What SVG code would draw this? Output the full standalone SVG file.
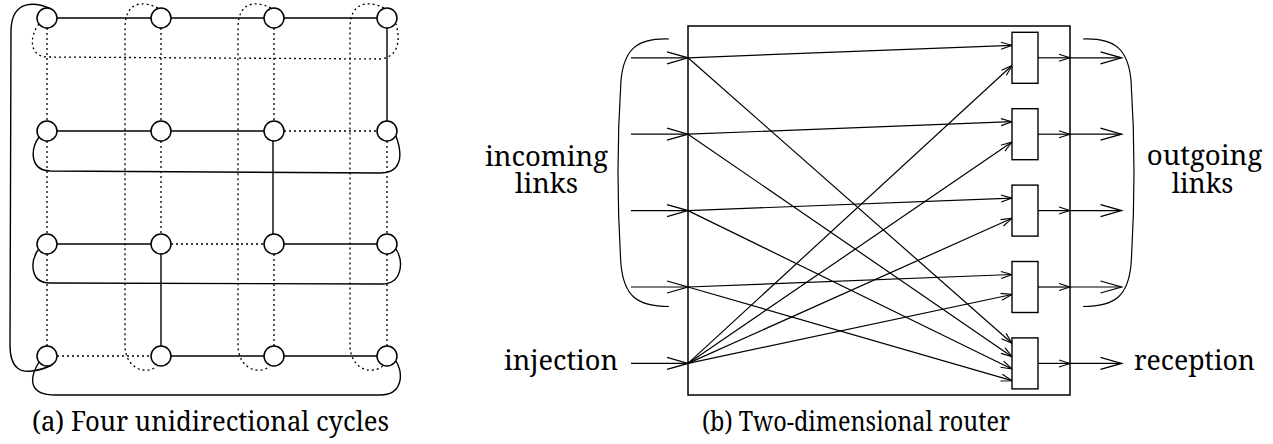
<svg xmlns="http://www.w3.org/2000/svg" width="1273" height="444" viewBox="0 0 1273 444">
<style>
.s{fill:none;stroke:#000;stroke-width:1.4}
.d{fill:none;stroke:#000;stroke-width:1.3;stroke-dasharray:2 3}
.n{fill:#fff;stroke:#000;stroke-width:1.5}
.l{fill:none;stroke:#000;stroke-width:1.2}
.bx{fill:#fff;stroke:#000;stroke-width:1.4}
text{font-family:"Noto Serif","DejaVu Serif",serif;fill:#000}
.t{font-size:28px}
.c{font-size:27px}
.sm{marker-end:url(#sa)}
.bg{marker-end:url(#ba)}
</style>
<defs>
<marker id="sa" markerUnits="userSpaceOnUse" markerWidth="16" markerHeight="12" viewBox="-14 -6 16 12" refX="0" refY="0" orient="auto" overflow="visible"><path d="M-11,-3.5 L0,0 L-11,3.5" fill="none" stroke="#000" stroke-width="1.1"/></marker>
<marker id="ba" markerUnits="userSpaceOnUse" markerWidth="26" markerHeight="16" viewBox="-24 -8 26 16" refX="0" refY="0" orient="auto" overflow="visible"><path d="M-21,-6 L0,0 L-21,6" fill="none" stroke="#000" stroke-width="1.3"/></marker>
</defs>

<g id="connectors-a">
<line class="s" x1="57" y1="18" x2="151" y2="18"/><line class="s" x1="171" y1="18" x2="264" y2="18"/><line class="s" x1="284" y1="18" x2="377" y2="18"/>
<line class="s" x1="57" y1="131" x2="151" y2="131"/><line class="s" x1="171" y1="131" x2="264" y2="131"/><line class="d" x1="284" y1="131" x2="377" y2="131"/>
<line class="s" x1="57" y1="244" x2="151" y2="244"/><line class="d" x1="171" y1="244" x2="264" y2="244"/><line class="s" x1="284" y1="244" x2="377" y2="244"/>
<line class="d" x1="57" y1="356" x2="151" y2="356"/><line class="s" x1="171" y1="356" x2="264" y2="356"/><line class="s" x1="284" y1="356" x2="377" y2="356"/>
<line class="d" x1="47" y1="28" x2="47" y2="121"/><line class="d" x1="47" y1="141" x2="47" y2="234"/><line class="d" x1="47" y1="254" x2="47" y2="346"/>
<line class="d" x1="161" y1="28" x2="161" y2="121"/><line class="d" x1="161" y1="141" x2="161" y2="234"/><line class="s" x1="161" y1="254" x2="161" y2="346"/>
<line class="d" x1="274" y1="28" x2="274" y2="121"/><line class="s" x1="273" y1="141" x2="273" y2="234"/><line class="d" x1="274" y1="254" x2="274" y2="346"/>
<line class="s" x1="387" y1="28" x2="387" y2="121"/><line class="d" x1="387" y1="141" x2="387" y2="234"/><line class="d" x1="387" y1="254" x2="387" y2="346"/>
<path class="s" d="M50,8.5 C36,2 12,-1 11,30 L10,345 C10,372 24,372 32,371 C40,370 46,368 52,365"/>
<path class="d" d="M158,8 C142,0 125,2 125,28 L125,345 C125,368 145,376 157,366"/>
<path class="d" d="M271,8 C255,0 238,2 238,28 L238,345 C238,368 258,376 270,366"/>
<path class="d" d="M384,8 C368,0 350,2 350,28 L350,345 C350,368 370,376 383,366"/>
<path class="d" d="M39,24 C30,35 28,56 47,57 L380,59 C395,58 402,45 396,24"/>
<path class="s" d="M39,137 C30,150 30,170 50,171 L380,173 C400,173 404,158 396,136"/>
<path class="s" d="M38,250 C30,262 30,283 50,283 L382,284 C402,284 404,262 396,249"/>
<path class="s" d="M39,362 C28,380 30,395 55,395 L380,395 C402,395 404,375 396,361"/>
</g>
<g id="node-1-1"><circle class="n" cx="47" cy="18" r="10"/></g>
<g id="node-1-2"><circle class="n" cx="161" cy="18" r="10"/></g>
<g id="node-1-3"><circle class="n" cx="274" cy="18" r="10"/></g>
<g id="node-1-4"><circle class="n" cx="387" cy="18" r="10"/></g>
<g id="node-2-1"><circle class="n" cx="47" cy="131" r="10"/></g>
<g id="node-2-2"><circle class="n" cx="161" cy="131" r="10"/></g>
<g id="node-2-3"><circle class="n" cx="274" cy="131" r="10"/></g>
<g id="node-2-4"><circle class="n" cx="387" cy="131" r="10"/></g>
<g id="node-3-1"><circle class="n" cx="47" cy="244" r="10"/></g>
<g id="node-3-2"><circle class="n" cx="161" cy="244" r="10"/></g>
<g id="node-3-3"><circle class="n" cx="274" cy="244" r="10"/></g>
<g id="node-3-4"><circle class="n" cx="387" cy="244" r="10"/></g>
<g id="node-4-1"><circle class="n" cx="47" cy="356" r="10"/></g>
<g id="node-4-2"><circle class="n" cx="161" cy="356" r="10"/></g>
<g id="node-4-3"><circle class="n" cx="274" cy="356" r="10"/></g>
<g id="node-4-4"><circle class="n" cx="387" cy="356" r="10"/></g>
<text class="c" x="32" y="431" textLength="357" lengthAdjust="spacingAndGlyphs">(a) Four unidirectional cycles</text>

<g id="router"><rect x="688" y="26" width="382" height="369" fill="none" stroke="#000" stroke-width="1.5"/></g>
<g id="connectors-b">
<line class="l bg" x1="631" y1="57.8" x2="688" y2="57.8"/>
<line class="l bg" x1="631" y1="134.2" x2="688" y2="134.2"/>
<line class="l bg" x1="631" y1="210.6" x2="688" y2="210.6"/>
<line class="l bg" x1="631" y1="287" x2="688" y2="287"/>
<line class="l bg" x1="631" y1="363.4" x2="688" y2="363.4"/>
<line class="l sm" x1="688" y1="57.8" x2="1012" y2="45.3"/>
<line class="l sm" x1="688" y1="134.2" x2="1012" y2="121.7"/>
<line class="l sm" x1="688" y1="210.6" x2="1012" y2="198.1"/>
<line class="l sm" x1="688" y1="287" x2="1012" y2="274.5"/>
<line class="l sm" x1="688" y1="57.8" x2="1012" y2="343.3"/>
<line class="l sm" x1="688" y1="134.2" x2="1012" y2="356.7"/>
<line class="l sm" x1="688" y1="210.6" x2="1012" y2="369"/>
<line class="l sm" x1="688" y1="287" x2="1012" y2="380.7"/>
<line class="l sm" x1="688" y1="363.4" x2="1012" y2="65.5"/>
<line class="l sm" x1="688" y1="363.4" x2="1012" y2="142"/>
<line class="l sm" x1="688" y1="363.4" x2="1012" y2="218.3"/>
<line class="l sm" x1="688" y1="363.4" x2="1012" y2="294.5"/>
<line class="l sm" x1="1038" y1="57.8" x2="1070" y2="57.8"/><line class="l bg" x1="1070" y1="57.8" x2="1121.5" y2="57.8"/>
<line class="l sm" x1="1038" y1="134.2" x2="1070" y2="134.2"/><line class="l bg" x1="1070" y1="134.2" x2="1121.5" y2="134.2"/>
<line class="l sm" x1="1038" y1="210.6" x2="1070" y2="210.6"/><line class="l bg" x1="1070" y1="210.6" x2="1121.5" y2="210.6"/>
<line class="l sm" x1="1038" y1="287" x2="1070" y2="287"/><line class="l bg" x1="1070" y1="287" x2="1121.5" y2="287"/>
<line class="l sm" x1="1038" y1="363.4" x2="1070" y2="363.4"/><line class="l bg" x1="1070" y1="363.4" x2="1121.5" y2="363.4"/>
<path class="l" d="M669,39 C636,38 624,50 621,80 Q615,172 621,265 C624,295 636,306.5 669,306.5"/>
<path class="l" d="M1083,39 C1116,38 1128,50 1131,80 Q1137,172 1131,265 C1128,295 1116,306.5 1083,306.5"/>
</g>
<g id="out-1"><rect class="bx" x="1012" y="32.3" width="26" height="51"/></g>
<g id="out-2"><rect class="bx" x="1012" y="108.7" width="26" height="51"/></g>
<g id="out-3"><rect class="bx" x="1012" y="185.1" width="26" height="51"/></g>
<g id="out-4"><rect class="bx" x="1012" y="261.5" width="26" height="51"/></g>
<g id="out-5"><rect class="bx" x="1012" y="337.9" width="26" height="51"/></g>
<g id="label-incoming"><text class="t" text-anchor="middle"><tspan x="546.5" y="165.7" textLength="123" lengthAdjust="spacingAndGlyphs">incoming</tspan><tspan x="546.5" y="193" textLength="63" lengthAdjust="spacingAndGlyphs">links</tspan></text></g>
<g id="label-injection"><text class="t" x="504" y="370" textLength="114" lengthAdjust="spacingAndGlyphs">injection</text></g>
<g id="label-outgoing"><text class="t" text-anchor="middle"><tspan x="1204.5" y="165" textLength="115.6" lengthAdjust="spacingAndGlyphs">outgoing</tspan><tspan x="1202.5" y="193.3" textLength="61.6" lengthAdjust="spacingAndGlyphs">links</tspan></text></g>
<g id="label-reception"><text class="t" x="1134" y="370" textLength="121" lengthAdjust="spacingAndGlyphs">reception</text></g>
<text class="c" x="702" y="431" textLength="308" lengthAdjust="spacingAndGlyphs">(b) Two-dimensional router</text>
</svg>
